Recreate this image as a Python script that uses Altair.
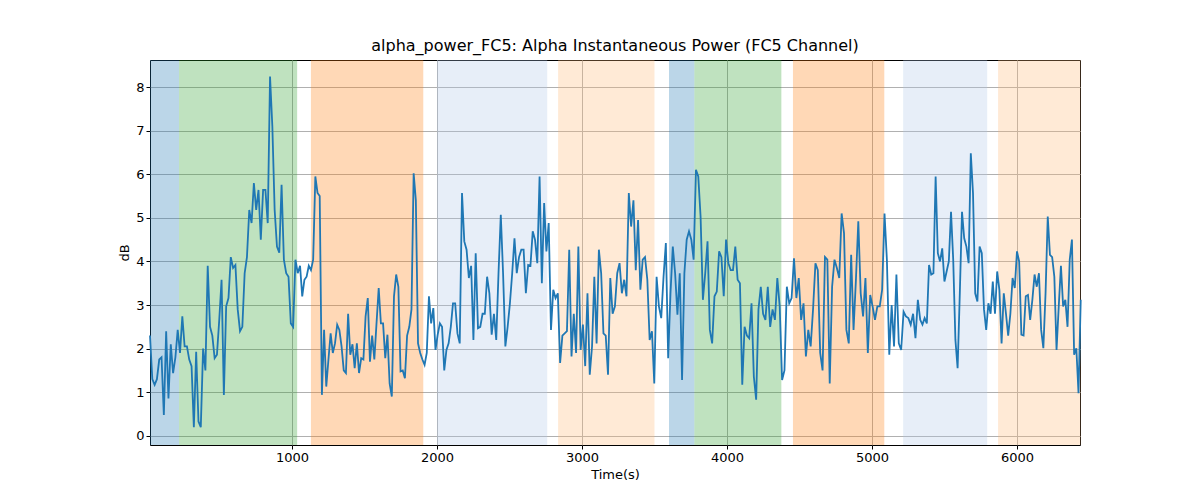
import altair as alt
import numpy as np
import pandas as pd

# signal, in six consecutive time windows
seg_bounds = [20, 1055, 2125, 3195, 4265, 5333, 6440]
seg1 = [2.3, 1.3, 1.17, 1.3, 1.75, 1.8, 0.48, 2.4, 0.86, 2.1, 1.44, 1.8, 2.43, 1.9, 2.74, 2.05,
        2.05, 1.75, 1.6, 0.2, 1.93, 0.33, 0.2, 2.0, 1.5, 3.9, 2.5, 2.3, 1.78, 1.86, 2.66, 3.58,
        0.94, 2.97, 3.16, 4.1, 3.85, 3.92, 2.9, 2.4, 2.5, 3.73, 4.1, 5.18, 4.88, 5.8, 5.18, 5.64,
        4.5, 5.64, 5.64, 4.88, 8.24, 7.1, 5.18, 4.34, 4.2, 5.76, 4.04, 3.73, 3.65, 2.58, 2.5,
        4.04, 3.73]
seg2 = [3.9, 3.2, 3.58, 3.65, 3.9, 3.8, 4.04, 5.95, 5.57, 5.5, 0.94, 2.43, 1.13, 1.75, 2.35,
        1.9, 2.12, 2.55, 2.43, 2.05, 1.5, 1.44, 2.8, 1.86, 2.1, 1.55, 2.12, 1.44, 1.78, 1.75,
        2.74, 3.16, 1.7, 2.3, 1.75, 2.58, 3.39, 2.58, 2.58, 1.78, 2.32, 1.2, 0.9, 3.2, 3.7, 3.42,
        1.48, 1.5, 1.32, 2.3, 2.5, 2.9, 6.02, 5.4, 2.12, 1.9, 1.75, 1.63, 1.9, 3.2, 2.58, 2.93,
        1.97, 2.32, 2.58, 2.5, 1.5, 1.97, 2.12, 2.5, 3.04]
seg3 = [3.04, 2.35, 2.12, 5.57, 4.46, 4.27, 3.62, 3.9, 2.2, 4.19, 2.47, 2.5, 2.8, 2.8, 3.65,
        3.27, 2.32, 2.8, 2.2, 3.73, 5.07, 3.73, 2.05, 2.5, 3.04, 3.73, 4.53, 3.73, 4.1, 4.27,
        4.27, 3.27, 3.92, 3.9, 4.69, 4.5, 3.96, 5.95, 3.5, 5.34, 4.23, 4.88, 2.43, 3.35, 3.16,
        3.27, 1.67, 2.3, 2.35, 2.4, 4.27, 1.82, 2.8, 1.9, 4.34, 1.97, 2.55, 1.6, 3.27, 1.4, 2.05,
        3.65, 2.12, 4.27, 3.73, 2.35, 2.3, 1.4]
seg4 = [3.62, 2.8, 2.97, 3.73, 3.96, 3.27, 3.58, 3.2, 5.57, 4.8, 5.4, 3.8, 4.95, 3.35, 4.04,
        4.1, 3.58, 2.2, 2.4, 1.2, 3.65, 2.97, 2.7, 3.65, 4.42, 1.78, 3.27, 4.34, 3.73, 2.78, 3.73,
        1.28, 3.73, 4.5, 4.69, 4.5, 4.04, 6.1, 5.95, 5.03, 3.12, 3.73, 4.46, 2.43, 2.12, 3.2,
        3.31, 4.23, 4.1, 3.2, 4.5, 3.96, 3.8, 3.8, 4.34, 3.58, 3.5, 1.17, 2.5, 2.3, 2.24, 3.04,
        1.36, 0.83, 2.9, 3.42, 2.8]
seg5 = [2.66, 3.42, 2.5, 2.9, 2.66, 3.62, 2.97, 1.28, 1.5, 3.42, 3.04, 3.16, 4.07, 3.16, 3.62,
        2.66, 3.04, 1.82, 2.43, 2.05, 2.9, 3.96, 3.8, 1.9, 1.5, 4.1, 4.04, 1.2, 3.42, 4.04, 3.85,
        3.62, 5.1, 4.65, 2.43, 2.12, 4.15, 2.43, 3.58, 4.92, 3.27, 2.74, 3.62, 1.9, 3.23, 2.97,
        2.66, 2.97, 2.97, 3.35, 5.1, 4.04, 1.86, 3.0, 2.05, 3.7, 2.12, 1.97, 2.85, 2.74, 2.7,
        2.55, 2.8, 2.24, 3.12]
seg6 = [2.66, 2.55, 2.7, 2.58, 3.92, 3.7, 3.73, 5.95, 4.19, 4.0, 4.3, 3.54, 3.77, 4.0, 5.14,
        4.04, 2.2, 1.55, 3.27, 5.14, 4.53, 4.34, 3.96, 6.48, 5.57, 3.27, 3.08, 4.34, 4.19, 2.9,
        2.43, 3.04, 2.8, 3.54, 2.8, 3.77, 3.35, 2.12, 3.27, 2.8, 2.3, 2.8, 3.62, 3.39, 4.23, 4.0,
        2.32, 2.3, 3.2, 3.23, 2.66, 3.12, 3.7, 3.42, 3.73, 2.43, 2.01, 3.27, 5.03, 4.15, 4.1,
        3.65, 1.97, 2.97, 3.9, 2.97, 3.12, 2.5, 4.04, 4.5, 1.86, 2.01, 0.98, 3.12]
segments = [seg1, seg2, seg3, seg4, seg5, seg6]

# shaded phases
span_start = [20, 220, 1130, 2000, 2835, 3600, 3775, 4455, 5215, 5870]
span_end = [220, 1035, 1905, 2760, 3500, 3775, 4375, 5085, 5795, 6440]
span_color = ["#1f77b4", "#2ca02c", "#ff7f0e", "#aec7e8", "#ffbb78",
              "#1f77b4", "#2ca02c", "#ff7f0e", "#aec7e8", "#ffbb78"]

times, values = [], []
for i, seg in enumerate(segments):
    last = i == len(segments) - 1
    t = np.linspace(seg_bounds[i], seg_bounds[i + 1], len(seg), endpoint=last)
    times.extend(t)
    values.extend(seg)
line_df = pd.DataFrame({"t": times, "v": values})
span_df = pd.DataFrame({"start": span_start, "end": span_end, "c": span_color})

x_scale = alt.Scale(domain=[20, 6435], nice=False, zero=False)
y_scale = alt.Scale(domain=[-0.21, 8.62], nice=False, zero=False)

spans = alt.Chart(span_df).mark_rect(opacity=0.3).encode(
    x=alt.X("start:Q", scale=x_scale),
    x2="end:Q",
    color=alt.Color("c:N", scale=None),
)

line = alt.Chart(line_df).mark_line(color="#1f77b4", strokeWidth=1.8).encode(
    x=alt.X("t:Q", scale=x_scale, title="Time(s)",
            axis=alt.Axis(values=[1000, 2000, 3000, 4000, 5000, 6000], format="d")),
    y=alt.Y("v:Q", scale=y_scale, title="dB",
            axis=alt.Axis(values=[0, 1, 2, 3, 4, 5, 6, 7, 8])),
)

chart = alt.layer(spans, line).properties(
    width=930, height=385,
    title="alpha_power_FC5: Alpha Instantaneous Power (FC5 Channel)",
    autosize=alt.AutoSizeParams(type="none"),
    padding={"left": 142, "top": 52, "right": 100, "bottom": 50},
).configure_view(
    stroke="black", strokeWidth=1
).configure_axis(
    grid=True, gridColor="#b0b0b0", gridWidth=1,
    domain=False, tickColor="black", tickSize=4,
    labelFont="DejaVu Sans", labelFontSize=13, labelColor="black",
    titleFont="DejaVu Sans", titleFontSize=13, titleFontWeight="normal", titleColor="black",
).configure_title(
    font="DejaVu Sans", fontSize=16, fontWeight="normal", color="black", offset=6
)

chart.save("out.html", embed_options={"renderer": "svg", "actions": False})
